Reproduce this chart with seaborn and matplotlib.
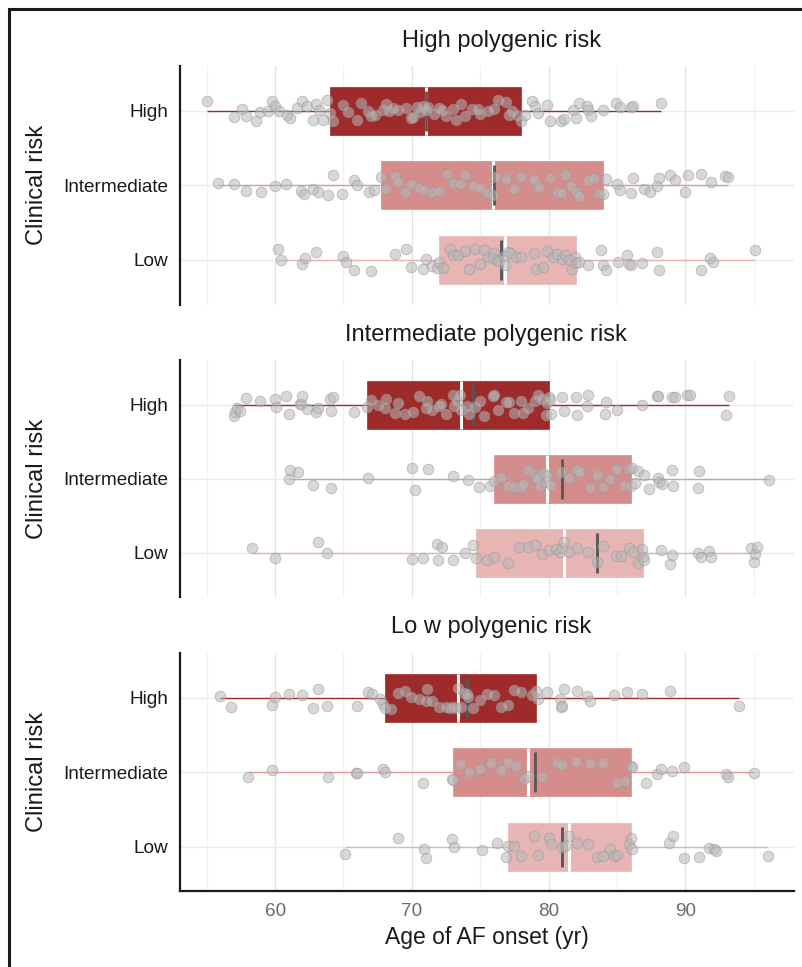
import numpy as np
import pandas as pd
import matplotlib
matplotlib.use("Agg")
import matplotlib.pyplot as plt
from matplotlib.patches import Rectangle
from matplotlib.ticker import MultipleLocator
import seaborn as sns

# Clinical risk groups (rows of every panel) and polygenic risk panels
levels = ['High', 'Intermediate', 'Low']
panel_titles = ['High polygenic risk', 'Intermediate polygenic risk', 'Lo w polygenic risk']

# Age of AF onset (yr)
high_prs_high = [55.0, 57.0, 57.6, 57.9, 58.6, 58.9, 59.5, 59.8, 60.0, 60.3, 60.9, 61.1, 61.6, 62.0,
                 62.3, 62.8, 63.0, 63.2, 63.5, 63.8, 64.0, 64.2, 65.0, 65.3, 66.0, 66.3, 66.8, 67.0,
                 67.3, 67.9, 68.1, 68.3, 68.6, 69.0, 69.6, 69.9, 70.1, 70.4, 70.6, 70.8, 71.0, 71.2,
                 71.6, 72.0, 72.2, 72.5, 73.0, 73.2, 73.6, 73.9, 74.4, 74.8, 75.0, 75.6, 76.0, 76.3,
                 76.9, 77.1, 77.3, 77.7, 78.0, 78.3, 78.8, 79.0, 79.2, 79.9, 80.1, 80.9, 81.1, 81.8,
                 82.0, 82.2, 82.8, 82.9, 83.1, 84.0, 84.9, 85.2, 86.0, 86.2, 88.2]
high_prs_int = [55.8, 57.0, 57.9, 59.0, 60.0, 60.8, 61.9, 62.1, 62.8, 63.1, 63.9, 64.2, 64.9, 65.8,
                66.0, 66.9, 67.2, 67.75, 68.1, 68.8, 69.0, 69.5, 69.9, 70.5, 70.9, 71.5, 72.0, 72.6,
                73.0, 73.5, 73.9, 74.5, 75.0, 75.5, 75.9, 76.1, 76.9, 77.5, 78.0, 78.9, 79.3, 80.1,
                80.6, 81.0, 81.2, 81.6, 82.0, 82.2, 82.9, 83.3, 83.7, 84.0, 84.2, 85.0, 85.2, 86.0,
                86.2, 87.0, 87.4, 87.9, 88.1, 88.9, 89.2, 90.0, 90.2, 91.1, 91.9, 92.9, 93.1]
high_prs_low = [60.2, 60.4, 62.0, 62.2, 63.0, 65.0, 65.2, 65.8, 67.0, 68.8, 69.6, 69.9, 70.8, 71.0,
                71.5, 71.8, 72.0, 72.3, 72.8, 73.0, 73.4, 73.9, 74.2, 74.6, 75.0, 75.3, 75.6, 75.9,
                76.0, 76.2, 76.4, 76.7, 76.8, 77.0, 77.2, 77.6, 78.0, 78.9, 79.1, 79.6, 79.9, 80.3,
                80.6, 81.0, 81.2, 81.5, 81.7, 81.9, 82.0, 82.2, 82.9, 83.8, 84.0, 84.2, 85.1, 85.7,
                85.9, 86.0, 86.8, 87.9, 88.1, 91.1, 91.8, 92.0, 95.1]

int_prs_high = [57.0, 57.1, 57.2, 57.4, 57.9, 58.9, 60.0, 60.1, 60.8, 61.0, 61.8, 61.9, 62.0, 62.3,
                63.0, 63.1, 64.0, 64.1, 64.2, 65.8, 66.75, 67.0, 67.5, 68.0, 68.1, 68.8, 69.0, 69.5,
                70.1, 70.5, 71.0, 71.1, 71.5, 72.0, 72.1, 72.5, 73.0, 73.1, 73.3, 73.5, 73.6, 74.0,
                74.2, 74.6, 75.0, 75.3, 75.9, 76.0, 76.3, 76.9, 77.1, 77.5, 78.0, 78.1, 78.5, 79.0,
                79.2, 79.5, 79.8, 79.9, 80.0, 80.1, 80.2, 81.0, 81.1, 82.0, 82.1, 82.8, 82.9, 84.1,
                84.2, 85.0, 86.8, 87.9, 88.0, 89.0, 89.2, 90.1, 90.3, 93.0, 93.2]
int_prs_int = [61.0, 61.1, 61.7, 62.8, 64.1, 66.8, 70.0, 70.2, 71.2, 73.0, 74.1, 74.9, 75.7, 76.0,
               76.5, 77.0, 77.5, 78.0, 78.1, 78.5, 79.0, 79.1, 79.2, 79.4, 79.6, 79.8, 79.9, 80.2,
               80.9, 81.5, 82.1, 82.3, 83.0, 83.5, 84.0, 84.5, 84.9, 85.5, 85.9, 86.0, 86.1, 86.3,
               86.5, 87.0, 87.3, 88.0, 88.1, 88.3, 89.0, 89.1, 90.9, 91.0, 96.1]
int_prs_low = [58.3, 60.0, 63.1, 63.8, 70.0, 70.8, 71.8, 71.9, 72.2, 73.0, 73.9, 74.5, 74.7, 75.5,
               76.0, 77.0, 77.8, 78.5, 79.0, 79.5, 80.0, 80.5, 80.8, 81.0, 81.1, 81.5, 82.1, 82.9,
               83.5, 84.0, 84.9, 85.3, 85.9, 86.2, 86.5, 86.8, 86.9, 87.0, 88.2, 88.9, 89.0, 90.9,
               91.1, 91.7, 91.9, 94.8, 95.0, 95.1, 95.2]

low_prs_high = [56.0, 56.8, 59.8, 60.0, 61.0, 62.0, 62.8, 63.1, 63.8, 66.0, 66.8, 67.1, 67.7, 67.9,
                68.0, 68.5, 69.0, 69.5, 69.9, 70.5, 71.0, 71.1, 71.5, 72.0, 72.5, 72.8, 73.0, 73.2,
                73.4, 73.6, 73.8, 74.0, 74.1, 74.5, 75.0, 75.5, 76.0, 76.5, 77.0, 77.5, 78.0, 78.8,
                79.1, 79.2, 79.9, 80.8, 80.9, 81.0, 81.1, 82.1, 82.8, 83.0, 84.8, 85.7, 86.8, 88.9,
                93.9]
low_prs_int = [58.0, 59.8, 63.9, 65.9, 66.0, 67.9, 68.0, 70.8, 72.9, 73.0, 73.5, 74.2, 75.0, 75.8,
               76.5, 77.0, 77.6, 78.2, 78.5, 79.5, 80.6, 81.0, 82.0, 83.0, 84.0, 85.0, 85.6, 86.0,
               86.1, 87.1, 87.9, 88.2, 89.0, 89.9, 93.0, 93.1, 95.0]
low_prs_low = [65.1, 69.0, 70.9, 71.0, 72.9, 73.1, 75.1, 76.2, 76.9, 77.0, 77.5, 78.0, 78.9, 79.2,
               80.0, 80.2, 81.0, 81.2, 81.5, 82.1, 82.9, 83.5, 84.0, 84.5, 84.8, 85.0, 85.9, 86.0,
               86.1, 88.8, 89.1, 89.9, 91.0, 91.7, 92.1, 92.2, 96.0]

# Mean age per clinical group (dark vertical marks)
means_high_prs = [71.05, 76.0, 76.5]
means_int_prs = [74.5, 81.0, 83.5]
means_low_prs = [74.0, 79.0, 81.0]

panel_data = [
    (high_prs_high, high_prs_int, high_prs_low, means_high_prs),
    (int_prs_high, int_prs_int, int_prs_low, means_int_prs),
    (low_prs_high, low_prs_int, low_prs_low, means_low_prs),
]

box_colors = {'High': '#9E2A2A', 'Intermediate': '#D58D8C', 'Low': '#E6B5B4'}
whisker_colors = {'High': '#9E2A2A', 'Intermediate': '#DB9C98', 'Low': '#E7B3AE'}

sns.set_style('white')
plt.rcParams['font.family'] = ['Liberation Sans', 'DejaVu Sans']

fig = plt.figure(figsize=(8.03, 9.67), dpi=100)

# panel rectangles (left, bottom, width, height) in figure fraction
rects = [
    (0.2242, 0.6851, 0.7640, 0.2466),
    (0.2242, 0.3826, 0.7640, 0.2446),
    (0.2242, 0.0781, 0.7640, 0.2466),
]
title_pos = [(502, 47), (486, 341), (491, 633)]

np.random.seed(7)

for i, (hi, mid, lo, means) in enumerate(panel_data):
    ax = fig.add_axes(rects[i])
    df = pd.DataFrame({
        'age': hi + mid + lo,
        'clinical': ['High'] * len(hi) + ['Intermediate'] * len(mid) + ['Low'] * len(lo),
    })

    for lvl in levels:
        sub = df[df['clinical'] == lvl]
        sns.boxplot(data=sub, x='age', y='clinical', order=levels, ax=ax,
                    color=box_colors[lvl], saturation=1, width=0.65,
                    whis=(0, 100), showfliers=False, showcaps=False,
                    linewidth=0.9, linecolor=whisker_colors[lvl],
                    boxprops=dict(edgecolor=box_colors[lvl], linewidth=0.5),
                    whiskerprops=dict(color=whisker_colors[lvl], linewidth=1.0),
                    medianprops=dict(color='white', linewidth=2.2))

    ypos = np.arange(len(levels))
    ax.vlines(means, ypos - 0.27, ypos + 0.27, color='#555555', lw=2.0, zorder=3)

    sns.stripplot(data=df, x='age', y='clinical', order=levels, ax=ax,
                  jitter=0.15, size=7.6, color='#B9B9B9', alpha=0.55,
                  edgecolor='#9A9A9A', linewidth=0.7, zorder=4)

    ax.set_xlim(53.05, 97.9)
    ax.set_ylim(2.6, -0.6)
    ax.xaxis.set_major_locator(MultipleLocator(10))
    ax.xaxis.set_minor_locator(MultipleLocator(5))
    ax.set_axisbelow(True)
    ax.grid(which='major', axis='x', color='#E6E3E3', lw=1.0)
    ax.grid(which='minor', axis='x', color='#F2F0F0', lw=0.9)
    ax.grid(which='major', axis='y', color='#EBEBEB', lw=1.0)

    for side in ['top', 'right']:
        ax.spines[side].set_visible(False)
    ax.spines['left'].set_linewidth(1.6)
    ax.spines['left'].set_color('#1a1a1a')

    ax.tick_params(axis='y', length=5, width=1.0, pad=3.5, labelsize=13.7,
                   colors='#1a1a1a')
    ax.tick_params(axis='x', which='minor', length=0)
    ax.set_ylabel('Clinical risk', fontsize=17, color='#1a1a1a')
    ax.yaxis.set_label_coords(-0.215, 0.5)

    if i < 2:
        ax.spines['bottom'].set_visible(False)
        ax.tick_params(axis='x', which='major', length=0, labelbottom=False)
        ax.set_xlabel('')
    else:
        ax.spines['bottom'].set_linewidth(1.6)
        ax.spines['bottom'].set_color('#1a1a1a')
        ax.tick_params(axis='x', which='major', length=3.5, width=1.0, pad=5,
                       labelsize=13.6, colors='#333333', labelcolor='#6b6b6b')
        ax.set_xlabel('Age of AF onset (yr)', fontsize=16.5, color='#1a1a1a', labelpad=4)

    tx, ty = title_pos[i]
    fig.text(tx / 803, 1 - ty / 967, panel_titles[i], ha='center', va='baseline',
             fontsize=17, color='#1a1a1a')

# outer frame around the figure (only left and top edges fall inside the canvas)
frame = Rectangle((8.5 / 803, -0.05), 1.0, 1 - 8.5 / 967 + 0.05, transform=fig.transFigure,
                  fill=False, edgecolor='#1a1a1a', lw=2.2, clip_on=False)
fig.add_artist(frame)

fig.savefig('out.png', dpi=100)
